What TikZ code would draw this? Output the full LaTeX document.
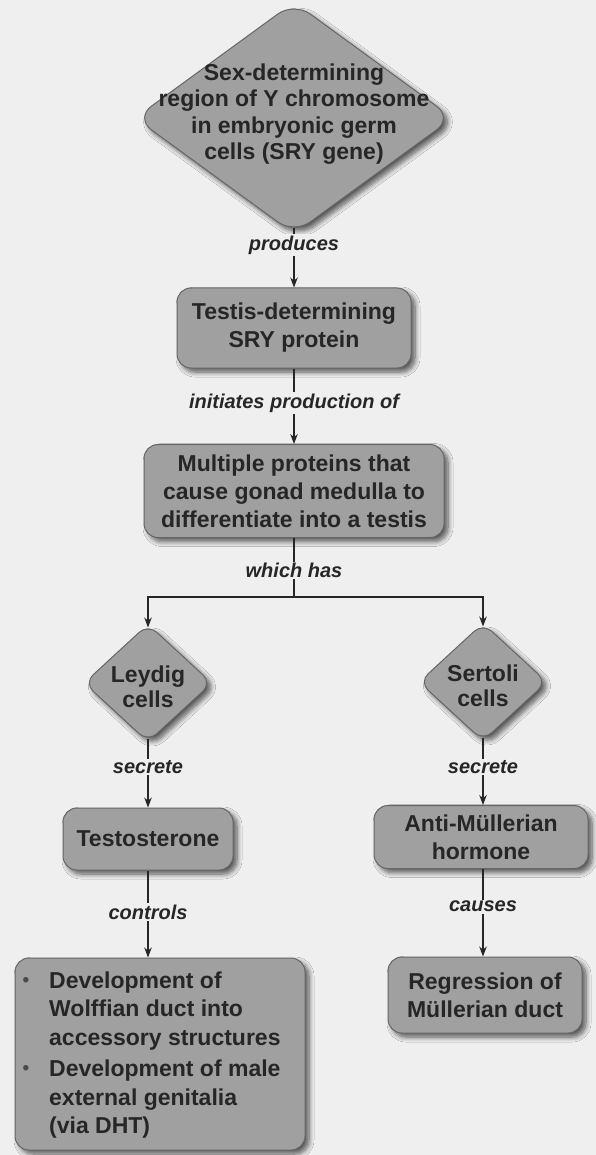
\documentclass[tikz,border=0pt]{standalone}
\usepackage{fontspec}
\setmainfont{Liberation Sans}
\usetikzlibrary{shapes.geometric,arrows.meta,shadows.blur}
\definecolor{bg}{HTML}{EFEFEF}
\definecolor{nodefill}{HTML}{A0A0A0}
\definecolor{nodeline}{HTML}{666666}
\definecolor{ink}{HTML}{262626}
\definecolor{bulletc}{HTML}{4A4A4A}
\begin{document}
\begin{tikzpicture}[x=1pt,y=-1pt,
  softshadow/.style={blur shadow={shadow xshift=4pt,shadow yshift=-4pt,shadow blur radius=5pt,shadow blur steps=8,shadow opacity=65}},
  box/.style={draw=nodeline, line width=1pt, fill=nodefill, rounded corners=14pt, softshadow, text=ink,
    font=\fontsize{23}{28}\selectfont\bfseries, align=center, inner sep=0pt},
  dia/.style={diamond, draw=nodeline, line width=1pt, fill=nodefill, rounded corners=12pt, softshadow, inner sep=0pt},
  dtext/.style={text=ink, font=\fontsize{23}{25}\selectfont\bfseries, align=center, inner sep=0pt},
  btext/.style={text=ink, font=\fontsize{23}{28.5}\selectfont\bfseries, align=left, inner sep=0pt},
  lbl/.style={fill=bg, text=ink, font=\fontsize{20}{24}\selectfont\bfseries\itshape, inner sep=1.5pt},
  conn/.style={draw=ink, line width=1.4pt},
  arr/.style={conn, -{Stealth[length=10pt,width=7.5pt]}}
]
\fill[bg] (0,0) rectangle (596,1155);
\useasboundingbox (0,0) rectangle (596,1155);

% nodes
\node[dia, rounded corners=20pt, minimum width=318pt, minimum height=232pt] (d1) at (294,118) {};
\node[dtext, font=\fontsize{23}{26.5}\selectfont\bfseries] (d1t) at (294,114) {Sex-determining\\region of Y chromosome\\in embryonic germ\\cells (SRY gene)};

\node[box, minimum width=234pt, minimum height=80pt] (b2) at (294,328) {Testis-determining\\SRY protein};
\node[box, minimum width=300pt, minimum height=93pt] (b3) at (294,491) {Multiple proteins that\\cause gonad medulla to\\differentiate into a testis};
\coordinate (j) at (294,597);

\node[dia, minimum width=128pt, minimum height=118pt] (d2) at (148,683) {};
\node[dtext] (d2t) at (148,687) {Leydig\\cells};
\node[dia, minimum width=128pt, minimum height=118pt] (d3) at (483,682) {};
\node[dtext] (d3t) at (483,686) {Sertoli\\cells};

\node[box, minimum width=170pt, minimum height=62pt] (b4) at (148,839) {Testosterone};
\node[box, minimum width=214pt, minimum height=63pt] (b5) at (481,837) {Anti-M\"ullerian\\hormone};

\node[box, minimum width=290pt, minimum height=192pt] (b6) at (160,1054) {};
\newcommand{\bul}{\llap{\raisebox{2pt}{\textcolor{bulletc}{\fontsize{19}{19}\selectfont\textbullet}}\hspace{20pt}}}
\node[btext, anchor=west] (b6t) at (49,1055) {\bul Development of\\Wolffian duct into\\accessory structures\\[3pt]\bul Development of male\\external genitalia\\(via DHT)};
\node[box, minimum width=194pt, minimum height=76pt] (b7) at (485,995) {Regression of\\M\"ullerian duct};

% connectors
\draw[arr, shorten <=-6pt] (d1.south) -- node[lbl, pos=0.2] {produces} (b2.north);
\draw[arr] (b2.south) -- node[lbl, pos=0.46] {initiates production of} (b3.north);
\draw[conn] (b3.south) -- node[lbl, pos=0.55] {which has} (j);
\draw[arr, shorten >=-4pt] (j) -| (d2.north);
\draw[arr, shorten >=-4pt] (j) -| (d3.north);
\draw[arr, shorten <=-4pt] (d2.south) -- node[lbl, pos=0.38] {secrete} (b4.north);
\draw[arr, shorten <=-4pt] (d3.south) -- node[lbl, pos=0.40] {secrete} (d3.south |- b5.north);
\draw[arr] (b4.south) -- node[lbl, pos=0.48] {controls} (b4.south |- b6.north);
\draw[arr] (d3.south |- b5.south) -- node[lbl, pos=0.43] {causes} (d3.south |- b7.north);
\end{tikzpicture}
\end{document}
